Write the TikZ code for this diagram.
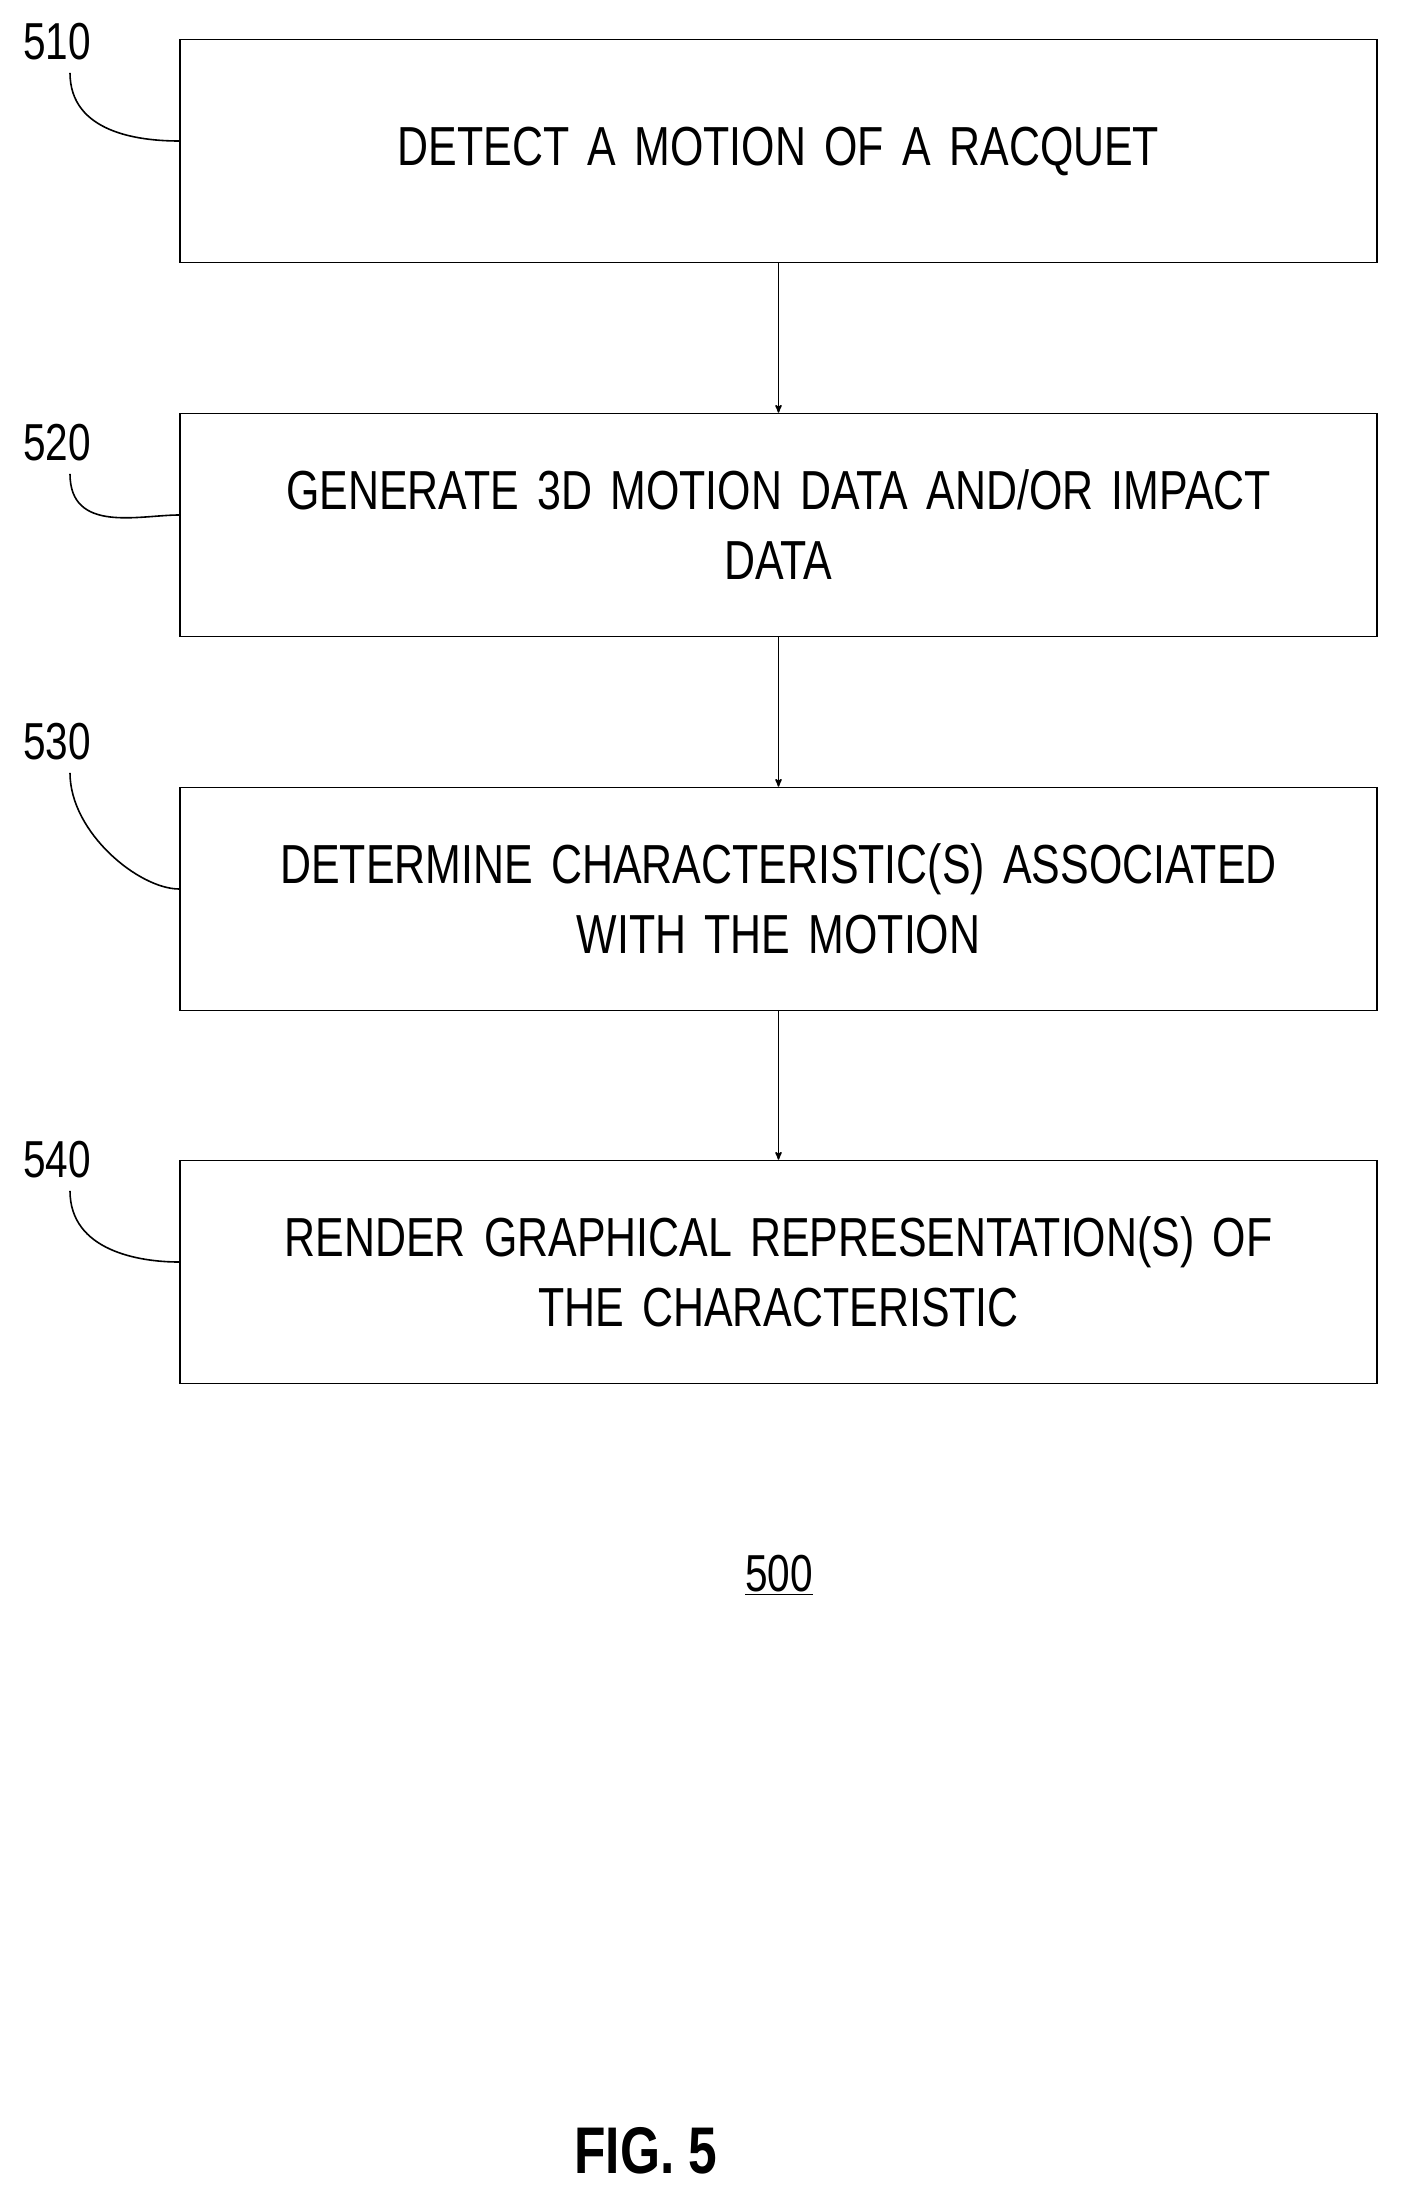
\documentclass[tikz,border=0pt]{standalone}
\usepackage{fontspec}
\setmainfont[FakeStretch=0.78]{Liberation Sans}
\usetikzlibrary{arrows,positioning}
\begin{document}
\begin{tikzpicture}[x=1pt,y=-1pt,->,>=stealth',thick,
  step node/.style={rectangle,draw,line width=1.6pt,minimum width=1197pt,minimum height=223pt,
    align=center,font=\fontsize{55}{70}\selectfont,text width=1120pt},
  ref label/.style={font=\fontsize{52}{60}\selectfont,inner sep=0pt},
  lead/.style={-,line width=1.6pt}]
  \useasboundingbox (0,0) rectangle (1404,2208);

  \node[step node] (510) at (778.5,151) {DETECT A MOTION OF A RACQUET};
  \node[step node] (520) at (778.5,525) {GENERATE 3D MOTION DATA AND/OR IMPACT\\DATA};
  \node[step node] (530) at (778.5,899) {DETERMINE CHARACTERISTIC(S) ASSOCIATED\\WITH THE MOTION};
  \node[step node] (540) at (778.5,1272) {RENDER GRAPHICAL REPRESENTATION(S) OF\\THE CHARACTERISTIC};

  \node[ref label] (l510) at (57,42) {510};
  \node[ref label] (l520) at (57,443) {520};
  \node[ref label] (l530) at (57,742) {530};
  \node[ref label] (l540) at (57,1160) {540};

  \path[line width=1.6pt]
    (510) edge (520)
    (520) edge (530)
    (530) edge (540);

  \foreach \n in {510,520,530,540}
    \draw[lead] (l\n.south) ++(13,12) .. controls +(0,60) and +(-40,0) .. ([yshift=10pt]\n.west);

  \node[font=\fontsize{52}{60}\selectfont] (num) at (779,1575) {\underline{500}};
  \node[font=\fontsize{66}{70}\selectfont\bfseries] (fig) at (646,2151) {FIG. 5};
\end{tikzpicture}
\end{document}
